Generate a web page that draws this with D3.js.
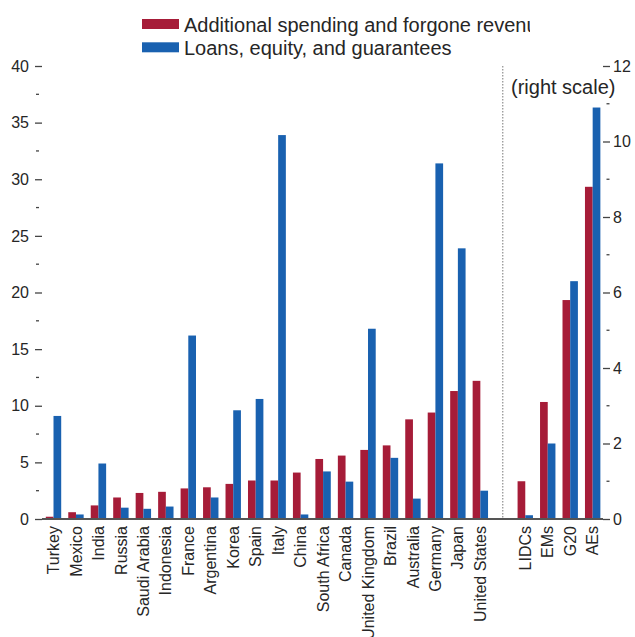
<!DOCTYPE html>
<html>
<head>
<meta charset="utf-8">
<script src="https://cdn.jsdelivr.net/npm/d3@7"></script>
<style>
  html, body { margin: 0; padding: 0; background: #fff; }
  svg { display: block; font-family: "Liberation Sans", Arial, sans-serif; }
</style>
</head>
<body>
<svg id="chart" width="635" height="637"></svg>
<script>
// Fiscal support by country (left scale) and by country group (right scale), percent of GDP
const countries = ["Turkey", "Mexico", "India", "Russia", "Saudi Arabia", "Indonesia", "France",
  "Argentina", "Korea", "Spain", "Italy", "China", "South Africa", "Canada", "United Kingdom",
  "Brazil", "Australia", "Germany", "Japan", "United States"];
const spendingCountries = [0.2, 0.6, 1.2, 1.9, 2.3, 2.4, 2.7, 2.8, 3.1, 3.4, 3.4, 4.1, 5.3, 5.6,
  6.1, 6.5, 8.8, 9.4, 11.3, 12.2];
const loansCountries = [9.1, 0.4, 4.9, 1.0, 0.9, 1.1, 16.2, 1.9, 9.6, 10.6, 33.9, 0.4, 4.2, 3.3,
  16.8, 5.4, 1.8, 31.4, 23.9, 2.5];

const groups = ["LIDCs", "EMs", "G20", "AEs"];
const spendingGroups = [1.0, 3.1, 5.8, 8.8];
const loansGroups = [0.1, 2.0, 6.3, 10.9];

const seriesNames = ["Additional spending and forgone revenue", "Loans, equity, and guarantees"];
const seriesColors = ["#A61C38", "#1961B0"];

const leftTicks = [0, 5, 10, 15, 20, 25, 30, 35, 40];
const rightTicks = [0, 2, 4, 6, 8, 10, 12];

const svg = d3.select("#chart");
const textColor = "#262626";
const fontSize = 16;

const baseY = 519, topY = 66;
const GAP = "\u0000gap";
const slots = [...countries, GAP, ...groups];

const x = d3.scaleBand().domain(slots).range([42.27, 603.9]).paddingInner(0).paddingOuter(0);
const xs = d3.scaleBand().domain([0, 1]).range([0, x.bandwidth()]).paddingInner(0).paddingOuter(0.459);
const yL = d3.scaleLinear().domain([0, 40]).range([baseY, topY]);
const yR = d3.scaleLinear().domain([0, 12]).range([baseY, topY]);

// Bars
const rows = [];
countries.forEach((c, i) => {
  rows.push({ cat: c, s: 0, v: spendingCountries[i], y: yL });
  rows.push({ cat: c, s: 1, v: loansCountries[i], y: yL });
});
groups.forEach((g, i) => {
  rows.push({ cat: g, s: 0, v: spendingGroups[i], y: yR });
  rows.push({ cat: g, s: 1, v: loansGroups[i], y: yR });
});

svg.append("g").selectAll("rect").data(rows).join("rect")
  .attr("x", d => x(d.cat) + xs(d.s))
  .attr("width", xs.bandwidth())
  .attr("y", d => d.y(d.v))
  .attr("height", d => baseY - d.y(d.v))
  .attr("fill", d => seriesColors[d.s]);

// Divider between countries and groups
const gx = x(GAP) + x.bandwidth() / 2;
svg.append("line")
  .attr("x1", gx).attr("x2", gx).attr("y1", topY).attr("y2", baseY)
  .attr("stroke", "#777").attr("stroke-width", 1).attr("stroke-dasharray", "1.5,1.5");

// Baseline
svg.append("line")
  .attr("x1", 42).attr("x2", 603).attr("y1", baseY).attr("y2", baseY)
  .attr("stroke", "#555").attr("stroke-width", 2);

// Left axis
const leftAxis = d3.axisLeft(yL).tickValues(leftTicks).tickSize(7).tickPadding(6);
const gL = svg.append("g").attr("transform", "translate(42,0)").call(leftAxis);
gL.select(".domain").remove();
gL.selectAll(".tick line").attr("stroke", "#444").attr("stroke-width", 1.3);
gL.selectAll(".tick text").attr("fill", textColor).style("font-size", fontSize + "px")
  .style("font-family", "'Liberation Sans', Arial, sans-serif");
// Left minor ticks
const leftMinor = leftTicks.slice(0, -1).map(t => t + 2.5);
svg.append("g").selectAll("line").data(leftMinor).join("line")
  .attr("x1", 36).attr("x2", 39).attr("y1", d => yL(d)).attr("y2", d => yL(d))
  .attr("stroke", "#444").attr("stroke-width", 1.3);

// Right axis
const rightAxis = d3.axisRight(yR).tickValues(rightTicks).tickSize(7).tickPadding(3);
const gR = svg.append("g").attr("transform", "translate(603,0)").call(rightAxis);
gR.select(".domain").remove();
gR.selectAll(".tick line").attr("stroke", "#444").attr("stroke-width", 1.3);
gR.selectAll(".tick text").attr("fill", textColor).style("font-size", fontSize + "px")
  .style("font-family", "'Liberation Sans', Arial, sans-serif");
const rightMinor = rightTicks.slice(0, -1).map(t => t + 1);
svg.append("g").selectAll("line").data(rightMinor).join("line")
  .attr("x1", 606.5).attr("x2", 609.5).attr("y1", d => yR(d)).attr("y2", d => yR(d))
  .attr("stroke", "#444").attr("stroke-width", 1.3);

// Category labels, rotated
svg.append("g").selectAll("text").data(slots.filter(s => s !== GAP)).join("text")
  .attr("transform", d => `translate(${x(d) + x.bandwidth() / 2},526) rotate(-90)`)
  .attr("text-anchor", "end")
  .attr("dy", "0.35em")
  .attr("fill", textColor)
  .style("font-size", fontSize + "px")
  .text(d => d);

// Right-scale note
svg.append("text")
  .attr("x", 511).attr("y", 94)
  .attr("fill", textColor).style("font-size", "20px")
  .text("(right scale)");

// Legend
const defs = svg.append("defs");
defs.append("clipPath").attr("id", "legendClip")
  .append("rect").attr("x", 0).attr("y", 0).attr("width", 530).attr("height", 70);
const legend = svg.append("g").attr("clip-path", "url(#legendClip)");
const legendRows = [0, 1];
legend.selectAll("rect").data(legendRows).join("rect")
  .attr("x", 142).attr("y", d => 19 + d * 23.3)
  .attr("width", 37).attr("height", 10)
  .attr("fill", d => seriesColors[d]);
legend.selectAll("text").data(legendRows).join("text")
  .attr("x", 184).attr("y", d => 32 + d * 23.3)
  .attr("fill", textColor).style("font-size", "20px")
  .text(d => seriesNames[d]);
</script>
</body>
</html>
